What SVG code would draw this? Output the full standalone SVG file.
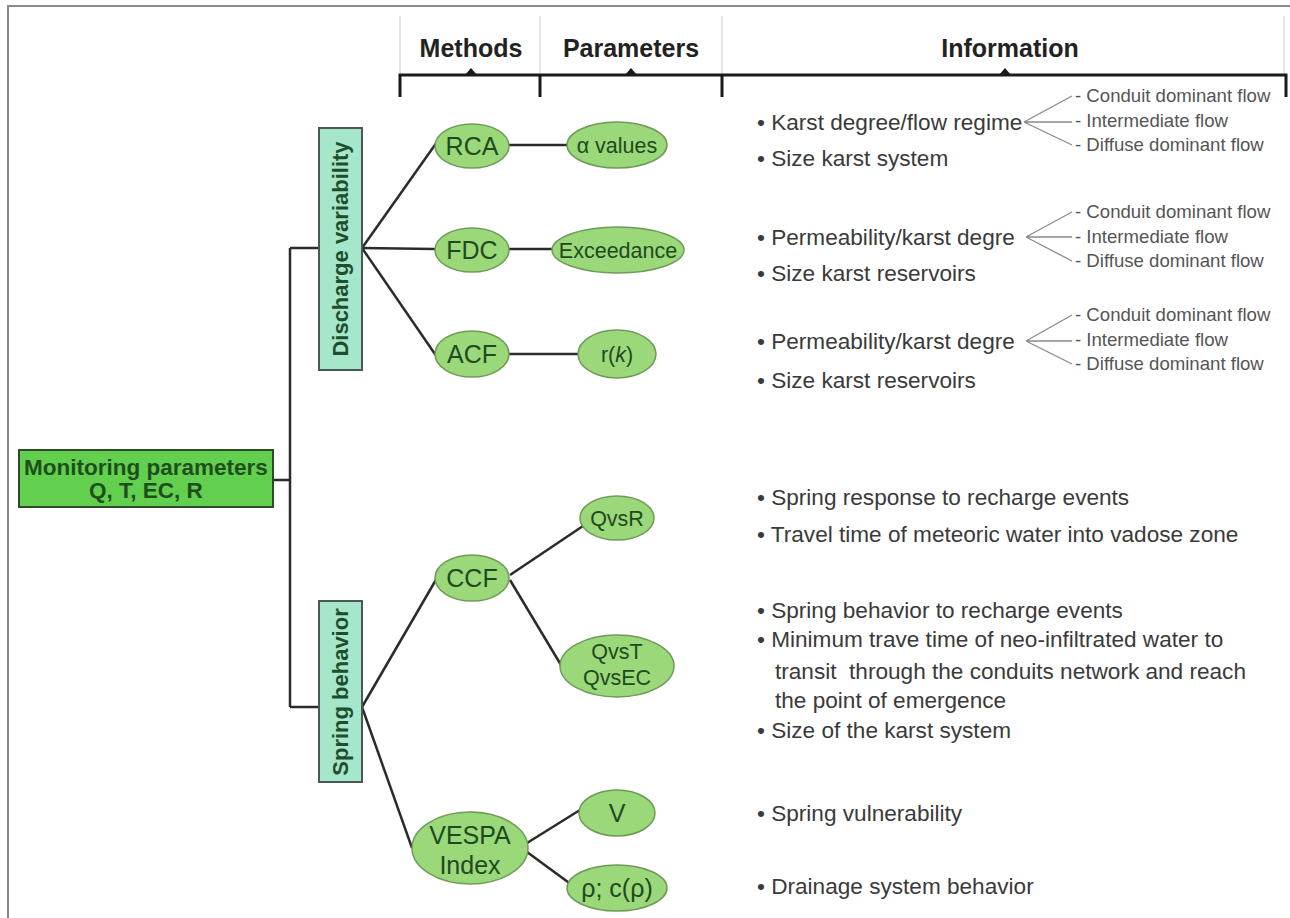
<svg xmlns="http://www.w3.org/2000/svg" width="1290" height="918" viewBox="0 0 1290 918">
<style>
.frame{stroke:#8a8a8a;stroke-width:2;fill:none}
.col{stroke:#d4d4d4;stroke-width:1.2}
.br{stroke:#1a1a1a;stroke-width:3;fill:none}
.hd{font-family:"Liberation Sans",Arial,sans-serif;font-weight:bold;font-size:25px;fill:#222;text-anchor:middle}
.cn{stroke:#2b2b2b;stroke-width:2.5;fill:none}
.fan{stroke:#8a8a8a;stroke-width:1.3;fill:none}
.mon{fill:#62d04e;stroke:#2f4a2a;stroke-width:2}
.monT{font-family:"Liberation Sans",Arial,sans-serif;font-weight:bold;font-size:22.5px;fill:#1d4f1d;text-anchor:middle}
.cat{fill:#a6e6cb;stroke:#4a5a52;stroke-width:2}
.catT{font-family:"Liberation Sans",Arial,sans-serif;font-weight:bold;font-size:22px;fill:#1d4f2a;text-anchor:middle}
.el{fill:#9ad87a;stroke:#6f9a5a;stroke-width:1.5}
.elT{font-family:"Liberation Sans",Arial,sans-serif;font-size:25px;fill:#1f4a1f;text-anchor:middle}
.elS{font-family:"Liberation Sans",Arial,sans-serif;font-size:21.5px;fill:#1f4a1f;text-anchor:middle}
.inf{font-family:"Liberation Sans",Arial,sans-serif;font-size:22.6px;fill:#3a3a3a}
.sub{font-family:"Liberation Sans",Arial,sans-serif;font-size:18.6px;fill:#555}
</style>
<rect x="0" y="0" width="1290" height="918" fill="#ffffff"/>
<path class="frame" d="M8,918 V6 H1290"/>

<g id="header">
  <line class="col" x1="400" y1="16" x2="400" y2="74"/>
  <line class="col" x1="540" y1="16" x2="540" y2="74"/>
  <line class="col" x1="722" y1="16" x2="722" y2="74"/>
  <line class="col" x1="1284" y1="16" x2="1284" y2="74"/>
  <path class="br" d="M400,97 V75 H1286 V97 M540,75 V97 M722,75 V97"/>
  <polygon points="465,75 477,75 471,68" fill="#1a1a1a"/>
  <polygon points="625,75 637,75 631,68" fill="#1a1a1a"/>
  <polygon points="999,75 1011,75 1005,68" fill="#1a1a1a"/>
  <text class="hd" x="471" y="57">Methods</text>
  <text class="hd" x="631" y="57">Parameters</text>
  <text class="hd" x="1010" y="57">Information</text>
</g>

<g id="connectors">
  <path class="cn" d="M273,480 H290 M290,248 V707 M290,248 H319 M290,707 H319"/>
  <line class="cn" x1="362" y1="248" x2="437" y2="142"/>
  <line class="cn" x1="362" y1="248" x2="435" y2="249"/>
  <line class="cn" x1="362" y1="248" x2="437" y2="357"/>
  <line class="cn" x1="509" y1="145" x2="568" y2="145"/>
  <line class="cn" x1="509" y1="249" x2="552" y2="249"/>
  <line class="cn" x1="509" y1="354" x2="578" y2="354"/>
  <line class="cn" x1="362" y1="707" x2="437" y2="578"/>
  <line class="cn" x1="362" y1="707" x2="412" y2="848"/>
  <line class="cn" x1="510" y1="575" x2="583" y2="526"/>
  <line class="cn" x1="510" y1="580" x2="561" y2="665"/>
  <line class="cn" x1="527" y1="843" x2="580" y2="810"/>
  <line class="cn" x1="527" y1="852" x2="572" y2="885"/>
  <path class="fan" d="M1024,122 L1072,96 M1024,122 H1072 M1024,122 L1072,145"/>
  <path class="fan" d="M1026,237 L1072,212 M1026,237 H1072 M1026,237 L1072,261"/>
  <path class="fan" d="M1026,341 L1072,315 M1026,341 H1072 M1026,341 L1072,364"/>
</g>

<g id="monitoring">
  <rect class="mon" x="19" y="450" width="254" height="57"/>
  <text class="monT" x="146" y="475">Monitoring parameters</text>
  <text class="monT" x="146" y="498">Q, T, EC, R</text>
</g>

<g id="discharge">
  <rect class="cat" x="319" y="128" width="43" height="242"/>
  <text class="catT" transform="translate(348,249) rotate(-90)">Discharge variability</text>
</g>

<g id="spring">
  <rect class="cat" x="319" y="601" width="43" height="181"/>
  <text class="catT" transform="translate(348,692) rotate(-90)">Spring behavior</text>
</g>

<g id="rca"><ellipse class="el" cx="472" cy="146" rx="37" ry="22"/><text class="elT" x="472" y="155">RCA</text></g>
<g id="fdc"><ellipse class="el" cx="472" cy="250" rx="37" ry="22"/><text class="elT" x="472" y="259">FDC</text></g>
<g id="acf"><ellipse class="el" cx="472" cy="354" rx="37" ry="23"/><text class="elT" x="472" y="363">ACF</text></g>
<g id="alpha"><ellipse class="el" cx="617" cy="145" rx="50" ry="23"/><text class="elS" x="617" y="153">α values</text></g>
<g id="exceedance"><ellipse class="el" cx="618" cy="250" rx="66" ry="23"/><text class="elS" x="618" y="258">Exceedance</text></g>
<g id="rk"><ellipse class="el" cx="617" cy="354" rx="39" ry="24"/><text class="elS" x="617" y="362">r(<tspan font-style="italic">k</tspan>)</text></g>

<g id="ccf"><ellipse class="el" cx="472" cy="578" rx="37" ry="23"/><text class="elT" x="472" y="587">CCF</text></g>
<g id="qvsr"><ellipse class="el" cx="617" cy="518" rx="37" ry="22"/><text class="elS" x="617" y="526">QvsR</text></g>
<g id="qvst"><ellipse class="el" cx="617" cy="666" rx="57" ry="31"/><text class="elS" x="617" y="659">QvsT</text><text class="elS" x="617" y="685">QvsEC</text></g>
<g id="vespa"><ellipse class="el" cx="470" cy="848" rx="58" ry="36"/><text class="elT" x="470" y="844">VESPA</text><text class="elT" x="470" y="874">Index</text></g>
<g id="v"><ellipse class="el" cx="617" cy="813" rx="38" ry="23"/><text class="elT" x="617" y="822">V</text></g>
<g id="rho"><ellipse class="el" cx="617" cy="888" rx="50" ry="23"/><text class="elT" x="617" y="897">ρ; c(ρ)</text></g>

<g id="info-rca">
  <text class="inf" x="757" y="130">• Karst degree/flow regime</text>
  <text class="inf" x="757" y="166">• Size karst system</text>
  <text class="sub" x="1075" y="102">- Conduit dominant flow</text>
  <text class="sub" x="1075" y="127">- Intermediate flow</text>
  <text class="sub" x="1075" y="151">- Diffuse dominant flow</text>
</g>
<g id="info-fdc">
  <text class="inf" x="757" y="245">• Permeability/karst degre</text>
  <text class="inf" x="757" y="281">• Size karst reservoirs</text>
  <text class="sub" x="1075" y="218">- Conduit dominant flow</text>
  <text class="sub" x="1075" y="243">- Intermediate flow</text>
  <text class="sub" x="1075" y="267">- Diffuse dominant flow</text>
</g>
<g id="info-acf">
  <text class="inf" x="757" y="349">• Permeability/karst degre</text>
  <text class="inf" x="757" y="388">• Size karst reservoirs</text>
  <text class="sub" x="1075" y="321">- Conduit dominant flow</text>
  <text class="sub" x="1075" y="346">- Intermediate flow</text>
  <text class="sub" x="1075" y="370">- Diffuse dominant flow</text>
</g>
<g id="info-qvsr">
  <text class="inf" x="757" y="505">• Spring response to recharge events</text>
  <text class="inf" x="757" y="542">• Travel time of meteoric water into vadose zone</text>
</g>
<g id="info-qvst">
  <text class="inf" x="757" y="618">• Spring behavior to recharge events</text>
  <text class="inf" x="757" y="647">• Minimum trave time of neo-infiltrated water to</text>
  <text class="inf" x="775" y="679" xml:space="preserve">transit  through the conduits network and reach</text>
  <text class="inf" x="775" y="708">the point of emergence</text>
  <text class="inf" x="757" y="738">• Size of the karst system</text>
</g>
<g id="info-v">
  <text class="inf" x="757" y="821">• Spring vulnerability</text>
</g>
<g id="info-rho">
  <text class="inf" x="757" y="894">• Drainage system behavior</text>
</g>
</svg>
